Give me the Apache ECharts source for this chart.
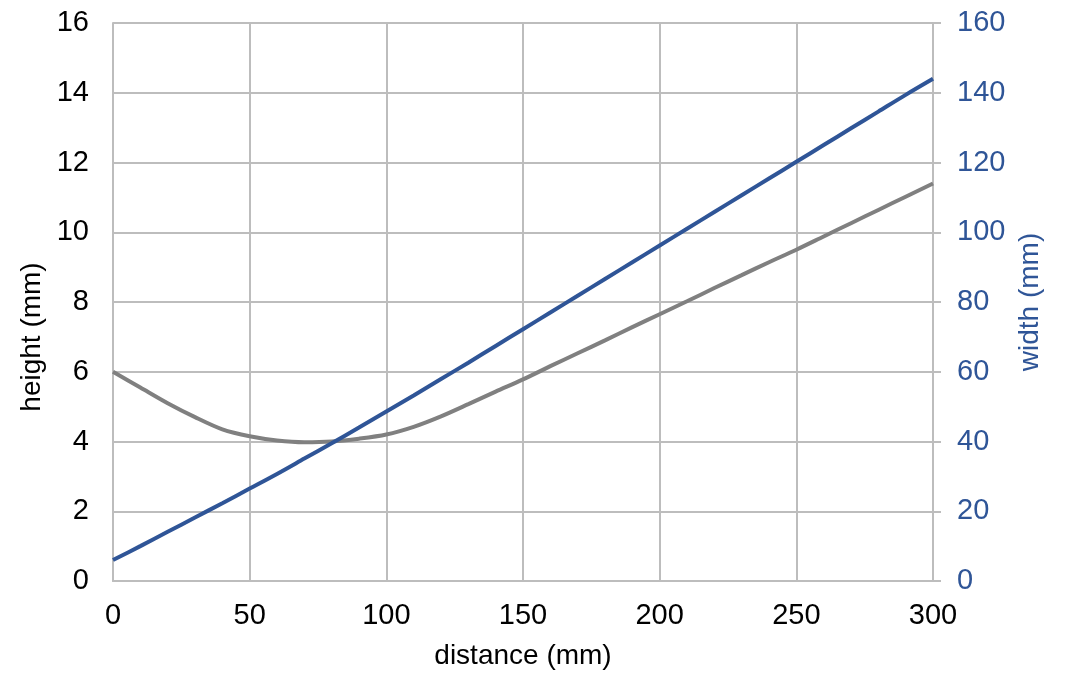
<!DOCTYPE html>
<html>
<head>
<meta charset="utf-8">
<script src="https://cdn.jsdelivr.net/npm/echarts@6/dist/echarts.min.js"></script>
<style>html,body{margin:0;padding:0;background:#fff}#c{width:1075px;height:700px}</style>
</head>
<body>
<div id="c"></div>
<script>
const distances = [0,10,20,30,40,50,60,70,80,90,100,110,120,130,140,150,160,170,180,190,200,210,220,230,240,250,260,270,280,290,300];
const heightValues = [6.0,5.55,5.1,4.7,4.35,4.15,4.03,3.98,4.0,4.08,4.2,4.42,4.72,5.07,5.43,5.78,6.16,6.53,6.9,7.28,7.65,8.02,8.4,8.77,9.14,9.5,9.88,10.26,10.64,11.02,11.4];
const widthValues = [6,10,14.1,18.2,22.3,26.5,30.7,35.1,39.5,44.0,48.6,53.2,57.9,62.6,67.4,72.2,77,81.8,86.6,91.4,96.2,101,105.8,110.6,115.4,120.2,125,129.8,134.6,139.4,144];

const FONT = 'Liberation Sans, Arial, sans-serif';
const GRID = '#bdbdbd';
const BLUE = '#2f5597';
const chart = echarts.init(document.getElementById('c'));
chart.setOption({
  animation: false,
  grid: {left: 113, right: 142, top: 23, bottom: 119},
  xAxis: {
    type: 'value', min: 0, max: 300, interval: 50,
    name: 'distance (mm)', nameLocation: 'middle', nameGap: 61,
    nameTextStyle: {fontFamily: FONT, fontSize: 28, color: '#000'},
    axisLine: {show: true, lineStyle: {color: GRID, width: 2}},
    axisTick: {show: false},
    axisLabel: {fontFamily: FONT, fontSize: 29, color: '#000', margin: 20},
    splitLine: {show: true, lineStyle: {color: GRID, width: 2}}
  },
  yAxis: [{
    type: 'value', min: 0, max: 16, interval: 2, position: 'left',
    name: 'height (mm)', nameLocation: 'middle', nameGap: 64,
    nameTextStyle: {fontFamily: FONT, fontSize: 28, color: '#000', padding: [0, 70, 0, 0]},
    axisLine: {show: true, lineStyle: {color: GRID, width: 2}},
    axisTick: {show: false},
    axisLabel: {fontFamily: FONT, fontSize: 29, color: '#000', margin: 24},
    splitLine: {show: true, lineStyle: {color: GRID, width: 2}}
  }, {
    type: 'value', min: 0, max: 160, interval: 20, position: 'right',
    name: 'width (mm)', nameLocation: 'middle', nameGap: 82,
    nameTextStyle: {fontFamily: FONT, fontSize: 28, color: BLUE},
    axisLine: {show: true, lineStyle: {color: GRID, width: 2}},
    axisTick: {show: true, length: 8, lineStyle: {color: GRID, width: 2}},
    axisLabel: {fontFamily: FONT, fontSize: 29, color: BLUE, margin: 24},
    splitLine: {show: false}
  }],
  series: [{
    type: 'line', yAxisIndex: 0, smooth: 0.3, symbol: 'none',
    data: distances.map((d, i) => [d, heightValues[i]]),
    lineStyle: {color: '#808080', width: 4}
  }, {
    type: 'line', yAxisIndex: 1, smooth: 0.3, symbol: 'none',
    data: distances.map((d, i) => [d, widthValues[i]]),
    lineStyle: {color: BLUE, width: 4}
  }]
});
</script>
</body>
</html>
